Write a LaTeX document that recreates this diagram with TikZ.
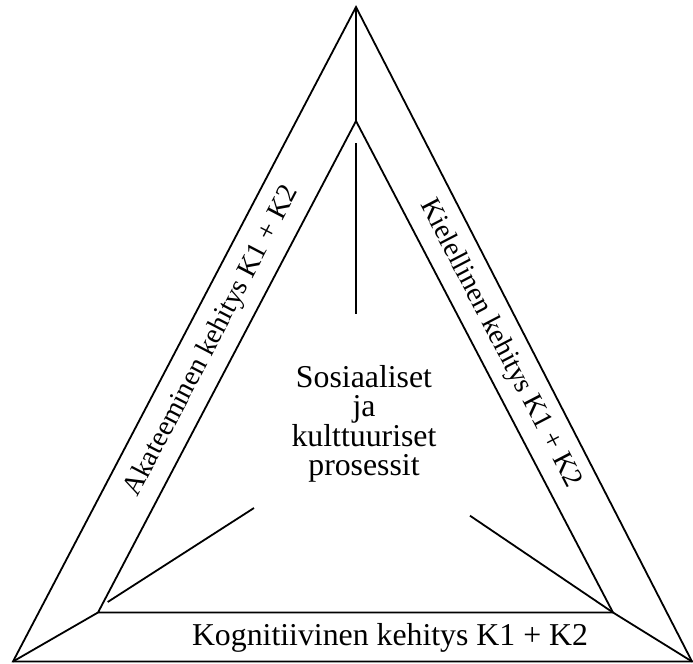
\documentclass[tikz,border=0pt]{standalone}
\usepackage{fontspec}
\setmainfont{Liberation Serif}
\begin{document}
\begin{tikzpicture}[x=0.75pt,y=-0.75pt,
  edge/.style={line width=1.35pt,line join=miter},
  bigtxt/.style={font=\fontsize{23.85}{22}\selectfont,inner sep=0pt},
  sidetxt/.style={font=\fontsize{21.2}{24}\selectfont,inner sep=0pt,anchor=base}]
\useasboundingbox[fill=white] (0,0) rectangle (693,664);
% outer triangle vertices
\coordinate (Ot) at (356,7);
\coordinate (Obl) at (13,661.5);
\coordinate (Obr) at (692,661.5);
% inner triangle vertices
\coordinate (It) at (356,121);
\coordinate (Ibl) at (98,612.5);
\coordinate (Ibr) at (613,612.5);
% interior line ends
\coordinate (Va) at (356,143);
\coordinate (Vb) at (356,314);
\coordinate (La) at (107.7,602);
\coordinate (Lb) at (254,508);
\coordinate (Rb) at (470,515.7);
\draw[edge] (Ot) -- (Obr) -- (Obl) -- cycle;
\draw[edge] (It) -- (Ibr) -- (Ibl) -- cycle;
\draw[edge] (Ot) -- (It);
\draw[edge] (Obl) -- (Ibl);
\draw[edge] (Obr) -- (Ibr);
\draw[edge] (Va) -- (Vb);
\draw[edge] (La) -- (Lb);
\draw[edge] (Ibr) -- (Rb);
\node[bigtxt,align=center] (center) at (364,423.7) {Sosiaaliset\\ja\\kulttuuriset\\prosessit};
\node[bigtxt,anchor=base] (bottom) at (390,645) {Kognitiivinen kehitys K1 + K2};
\node[sidetxt,rotate=62.4] (left) at (218,344.5) {Akateeminen kehitys K1 + K2};
\node[sidetxt,rotate=-62.5] (right) at (494,346.5) {Kielellinen kehitys K1 + K2};
\end{tikzpicture}
\end{document}
